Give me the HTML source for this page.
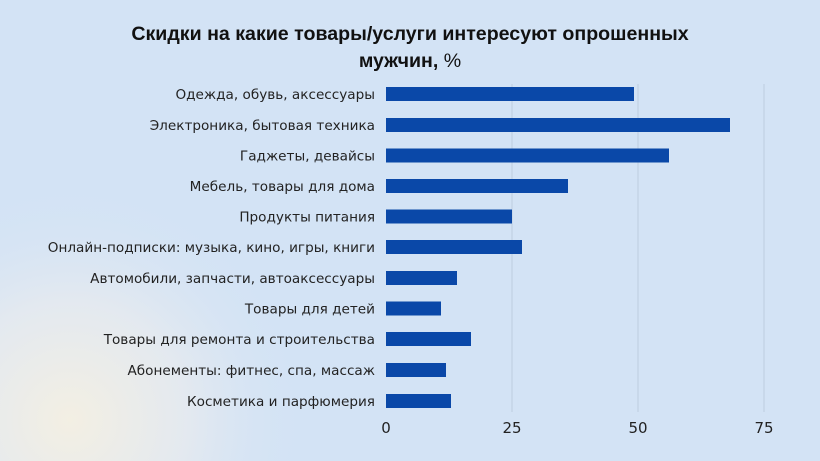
<!DOCTYPE html>
<html><head><meta charset="utf-8"><style>
html,body{margin:0;padding:0}
body{width:820px;height:461px;overflow:hidden;background:#d3e3f5}
svg{display:block}
</style></head><body>
<svg width="820" height="461" xmlns="http://www.w3.org/2000/svg" font-family="Liberation Sans, DejaVu Sans, sans-serif">
<defs>
<radialGradient id="g" cx="70" cy="420" r="240" gradientUnits="userSpaceOnUse">
<stop offset="0" stop-color="#f3efe3"/><stop offset="0.5" stop-color="#e3e9f0"/><stop offset="1" stop-color="#d3e3f5" stop-opacity="0"/>
</radialGradient>
</defs>
<rect width="820" height="461" fill="#d3e3f5"/>
<rect width="820" height="461" fill="url(#g)"/>
<text x="410" y="40" text-anchor="middle" font-size="19.6" font-weight="bold" fill="#111">Скидки на какие товары/услуги интересуют опрошенных</text>
<text x="410" y="67" text-anchor="middle" font-size="19.6" fill="#111"><tspan font-weight="bold">мужчин,</tspan> %</text>
<g stroke="#bccde0" stroke-width="1">
<line x1="512" y1="84" x2="512" y2="412"/><line x1="638" y1="84" x2="638" y2="412"/><line x1="764" y1="84" x2="764" y2="412"/>
</g>
<g fill="#0a48a8">
<rect x="386" y="87" width="248" height="14"/>
<rect x="386" y="118" width="344" height="14"/>
<rect x="386" y="148.5" width="283" height="14"/>
<rect x="386" y="179" width="182" height="14"/>
<rect x="386" y="209.5" width="126" height="14"/>
<rect x="386" y="240" width="136" height="14"/>
<rect x="386" y="271" width="71" height="14"/>
<rect x="386" y="301.5" width="55" height="14"/>
<rect x="386" y="332" width="85" height="14"/>
<rect x="386" y="363" width="60" height="14"/>
<rect x="386" y="394" width="65" height="14"/>
</g>
<g font-size="13.6" fill="#222" text-anchor="end" font-family="DejaVu Sans, sans-serif">
<text x="375" y="99">Одежда, обувь, аксессуары</text>
<text x="375" y="130">Электроника, бытовая техника</text>
<text x="375" y="160.5">Гаджеты, девайсы</text>
<text x="375" y="191">Мебель, товары для дома</text>
<text x="375" y="221.5">Продукты питания</text>
<text x="375" y="252">Онлайн-подписки: музыка, кино, игры, книги</text>
<text x="375" y="283">Автомобили, запчасти, автоаксессуары</text>
<text x="375" y="313.5">Товары для детей</text>
<text x="375" y="344">Товары для ремонта и строительства</text>
<text x="375" y="375">Абонементы: фитнес, спа, массаж</text>
<text x="375" y="406">Косметика и парфюмерия</text>
</g>
<g font-size="15" fill="#222" text-anchor="middle" font-family="DejaVu Sans, sans-serif">
<text x="386" y="433">0</text><text x="512" y="433">25</text><text x="638" y="433">50</text><text x="764" y="433">75</text>
</g>
</svg>
</body></html>
